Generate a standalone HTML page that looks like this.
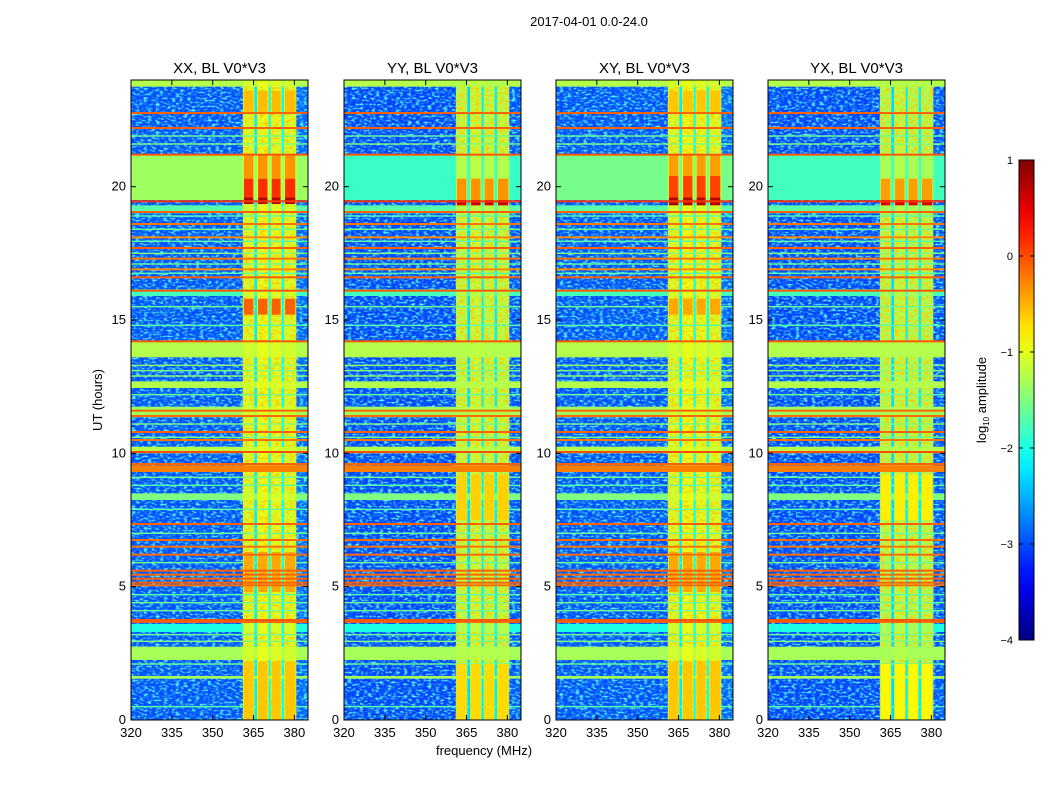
<!DOCTYPE html>
<html><head><meta charset="utf-8"><style>
html,body{margin:0;padding:0;background:#fff;width:1050px;height:800px;overflow:hidden}
svg text{font-family:"Liberation Sans",sans-serif;fill:#000}
</style></head><body>
<svg id="fig" width="1050" height="800" viewBox="0 0 1050 800" xmlns="http://www.w3.org/2000/svg">
<defs>
<filter id="speckle" x="0" y="0" width="100%" height="100%">
<feTurbulence type="fractalNoise" baseFrequency="0.25 0.5" numOctaves="2" seed="3" result="n"/>
<feColorMatrix in="n" type="matrix" values="0 0 0 0 0.1  0 0 0 0 0.95  0 0 0 0 0.9  3.2 0 0 0 -1.45"/>
</filter>
<filter id="speckle2" x="0" y="0" width="100%" height="100%">
<feTurbulence type="fractalNoise" baseFrequency="0.2 0.4" numOctaves="2" seed="9" result="n"/>
<feColorMatrix in="n" type="matrix" values="0 0 0 0 1  0 0 0 0 0.6  0 0 0 0 0  3 0 0 0 -1.25"/>
</filter>
</defs>
<text x="589" y="26" font-size="13" text-anchor="middle">2017-04-01 0.0-24.0</text>
<text x="484" y="755" font-size="13" text-anchor="middle">frequency (MHz)</text>
<text transform="translate(102,400) rotate(-90)" font-size="13" text-anchor="middle">UT (hours)</text>
<g id="panels"></g>
<g id="cbar"></g>
</svg>
<script>
// ---- data ----
const panelTitles = ["XX, BL V0*V3","YY, BL V0*V3","XY, BL V0*V3","YX, BL V0*V3"];
const xTicks = [320,335,350,365,380];
const yTicks = [0,5,10,15,20];
const cbTicks = [1,0,-1,-2,-3,-4];
// frequency segments [fStart, fEnd] and level per panel
const freqSegs = [[320,361.1],[361.1,365.3],[365.3,366.3],[366.3,370.5],[370.5,371.3],[371.3,375.3],[375.3,376.2],[376.2,380.7],[380.7,385]];
const segLevelXX = [-3.0,-1.1,-2.2,-1.0,-2.1,-1.05,-2.1,-1.1,-2.9];
const segLevelYY = [-3.05,-1.25,-2.3,-1.2,-2.2,-1.25,-2.2,-1.25,-3.0];
const segLevelXY = [-3.0,-1.1,-2.2,-1.0,-2.1,-1.05,-2.1,-1.1,-2.9];
const segLevelYX = [-3.05,-1.3,-2.3,-1.25,-2.2,-1.3,-2.2,-1.3,-3.0];
// full-width time bands [t0, t1, level]
const bands = [[23.75,24,-1.25],[13.6,14.2,-1.25],[12.45,12.7,-1.25],[11.35,11.75,-1.35],[10.0,10.25,-1.25],[9.3,9.55,-0.25],[8.25,8.5,-1.5],[2.25,2.75,-1.3],[1.55,1.65,-1.3],[15.9,16.15,-1.8],[19.0,19.3,-1.7],[3.3,3.6,-2.0]];
// per-panel evening band 19.5-21.2 level
const eveningLevel = [-1.35,-1.85,-1.55,-1.8];
// RFI boxes (only in RFI channels) [t0, t1, level]
const rfiXX = [[19.35,19.6,0.75],[19.6,20.3,0.15],[20.3,21.2,-0.35],[15.2,15.8,-0.1],[4.8,6.3,-0.45],[0,2.2,-0.6],[22.8,23.6,-0.55]];
const rfiYY = [[19.3,19.5,0.6],[19.5,20.3,-0.35],[7.5,9.2,-0.65],[0,2.1,-0.7]];
const rfiXY = [[19.3,19.6,0.75],[19.6,20.4,0.05],[20.4,21.2,-0.4],[15.2,15.8,-0.45],[4.8,6.3,-0.45],[0,2.2,-0.6],[22.8,23.6,-0.6]];
const rfiYX = [[19.3,19.5,0.55],[19.5,20.3,-0.4],[7.5,9.2,-0.8],[0,2.1,-0.85]];
// thin full-width stripes [t, level]
const stripes = [[22.76,-0.1],[22.2,-0.1],[21.2,-0.05],[19.45,0.1],[19.05,-0.1],[18.6,-0.2],[18.1,-0.3],[17.7,-0.1],[17.3,-0.2],[16.9,-0.3],[16.6,-0.1],[16.1,-0.05],[14.2,-0.05],[11.6,-0.1],[11.4,-0.15],[10.8,-0.1],[10.5,-0.2],[10.05,0.0],[9.6,-0.1],[7.35,-0.1],[6.75,-0.15],[6.5,-0.2],[6.2,-0.15],[5.6,-0.1],[5.45,-0.15],[5.3,-0.1],[5.15,-0.1],[5.05,-0.15],[3.75,-0.05],[3.68,-0.1]];
// thin light lines [t, level]
const lightLines = [[21.9,-1.6],[21.6,-1.5],[18.9,-1.7],[18.4,-1.6],[17.95,-1.7],[17.5,-1.5],[17.1,-1.6],[16.75,-1.7],[15.5,-1.6],[14.8,-1.7],[13.3,-1.4],[13.1,-1.5],[12.9,-1.4],[12.2,-1.6],[11.1,-1.5],[10.6,-1.6],[9.1,-1.6],[8.8,-1.7],[7.9,-1.7],[7.0,-1.6],[5.9,-1.6],[4.7,-1.7],[4.4,-1.6],[4.1,-1.6],[3.45,-1.5],[3.2,-1.6],[2.95,-1.5],[2.1,-1.6],[0.5,-1.7]];

const segLevels = [segLevelXX,segLevelYY,segLevelXY,segLevelYX];
const rfiBoxes = [rfiXX,rfiYY,rfiXY,rfiYX];
const rfiCols = [1,3,5,7];

// ---- layout ----
const NS="http://www.w3.org/2000/svg";
const panelX=[131,344,556,768], PW=177, PT=80, PB=720;
const fmin=320,fmax=385,tmin=0,tmax=24,vmin=-4,vmax=1;
function xs(p,f){return panelX[p]+(f-fmin)/(fmax-fmin)*PW;}
function ys(t){return PB-(t-tmin)/(tmax-tmin)*(PB-PT);}
function jet(v){
  let x=Math.max(0,Math.min(1,(v-vmin)/(vmax-vmin)));
  const c=k=>Math.round(255*Math.max(0,Math.min(1,1.5-Math.abs(4*x-k))));
  return `rgb(${c(3)},${c(2)},${c(1)})`;
}
function mk(tag,attrs,parent){const e=document.createElementNS(NS,tag);for(const k in attrs)e.setAttribute(k,attrs[k]);parent.appendChild(e);return e;}
const root=document.getElementById('panels');
const defs=document.querySelector('defs');
for(let p=0;p<4;p++){
  const cp=mk('clipPath',{id:'cp'+p},defs);
  mk('rect',{x:panelX[p],y:PT,width:PW,height:PB-PT},cp);
  const g=mk('g',{},root);
  
  
  const hm=mk('g',{'clip-path':`url(#cp${p})`},g);
  
  
  freqSegs.forEach((s,i)=>{
    const r=mk('rect',{x:xs(p,s[0]),y:PT,width:xs(p,s[1])-xs(p,s[0])+0.3,height:PB-PT,fill:jet(segLevels[p][i])},hm);
    
    
  });
  const nz=mk('rect',{x:xs(p,320),y:PT,width:xs(p,361.1)-xs(p,320),height:PB-PT,filter:'url(#speckle)'},hm);
  
  
  const nz2=mk('rect',{x:xs(p,380.7),y:PT,width:xs(p,385)-xs(p,380.7),height:PB-PT,filter:'url(#speckle)'},hm);
  
  
  rfiCols.forEach(ci=>{
    const s=freqSegs[ci];
    const nz3=mk('rect',{x:xs(p,s[0]),y:PT,width:xs(p,s[1])-xs(p,s[0]),height:PB-PT,filter:'url(#speckle2)'},hm);
    
    
  });
  lightLines.forEach(s=>{
    const r=mk('rect',{x:panelX[p],y:ys(s[0])-0.7,width:PW,height:1.4,fill:jet(s[1])},hm);
    
    
  });
  const allBands=bands.concat([[19.5,21.2,eveningLevel[p]]]);
  allBands.forEach(b=>{
    const r=mk('rect',{x:panelX[p],y:ys(b[1]),width:PW,height:ys(b[0])-ys(b[1]),fill:jet(b[2])},hm);
    
    
    rfiCols.forEach(ci=>{
      const s=freqSegs[ci];
      const lv=Math.max(b[2],segLevels[p][ci]);
      const q=mk('rect',{x:xs(p,s[0]),y:ys(b[1]),width:xs(p,s[1])-xs(p,s[0]),height:ys(b[0])-ys(b[1]),fill:jet(lv)},hm);
      
      
    });
  });
  rfiBoxes[p].forEach(b=>{
    rfiCols.forEach(ci=>{
      const s=freqSegs[ci];
      const q=mk('rect',{x:xs(p,s[0])+1,y:ys(b[1]),width:xs(p,s[1])-xs(p,s[0])-2,height:ys(b[0])-ys(b[1]),fill:jet(b[2])},hm);
      
      
    });
  });
  stripes.forEach(s=>{
    const r=mk('rect',{x:panelX[p],y:ys(s[0])-1,width:PW,height:2,fill:jet(s[1])},hm);
    
    
  });
  const fr=mk('rect',{x:panelX[p],y:PT,width:PW,height:PB-PT,fill:'none',stroke:'#000','stroke-width':1},g);
  
  
  const tt=mk('text',{x:panelX[p]+PW/2,y:73,'font-size':15,'text-anchor':'middle'},g);
  tt.textContent=panelTitles[p];
  
  
  xTicks.forEach(f=>{
    const x=xs(p,f);
    mk('line',{x1:x,x2:x,y1:PB,y2:PB-5,stroke:'#000'},g);
    mk('line',{x1:x,x2:x,y1:PT,y2:PT+5,stroke:'#000'},g);
    const t=mk('text',{x:x,y:PB+17,'font-size':13,'text-anchor':'middle'},g);
    t.textContent=f;
    
    
  });
  yTicks.forEach(h=>{
    const y=ys(h);
    mk('line',{x1:panelX[p],x2:panelX[p]+5,y1:y,y2:y,stroke:'#000'},g);
    mk('line',{x1:panelX[p]+PW,x2:panelX[p]+PW-5,y1:y,y2:y,stroke:'#000'},g);
    const t=mk('text',{x:panelX[p]-5,y:y+4,'font-size':13,'text-anchor':'end'},g);
    t.textContent=h;
    
    
  });
}
// colorbar
const cb=document.getElementById('cbar');
const gd=mk('linearGradient',{id:'jetg',x1:0,y1:1,x2:0,y2:0},defs);
for(let i=0;i<=20;i++){const v=vmin+(vmax-vmin)*i/20;mk('stop',{offset:i/20,'stop-color':jet(v)},gd);}
const CBX=1019,CBW=15,CBT=160,CBB=640;
const cbr=mk('rect',{x:CBX,y:CBT,width:CBW,height:CBB-CBT,fill:'url(#jetg)',stroke:'#000'},cb);


cbTicks.forEach(v=>{
  const y=CBB-(v-vmin)/(vmax-vmin)*(CBB-CBT);
  mk('line',{x1:CBX,x2:CBX+4,y1:y,y2:y,stroke:'#000'},cb);
  mk('line',{x1:CBX+CBW,x2:CBX+CBW-4,y1:y,y2:y,stroke:'#000'},cb);
  const t=mk('text',{x:1013,y:y+4,'font-size':11,'text-anchor':'end'},cb);
  t.textContent=v<0?'\u2212'+Math.abs(v):String(v);
  
  
});
const cl=mk('text',{transform:'translate(986,400) rotate(-90)','font-size':13,'text-anchor':'middle'},cb);
cl.innerHTML='log<tspan font-size="8" dy="3">10</tspan><tspan dy="-3"> amplitude</tspan>';


</script>
</body></html>
